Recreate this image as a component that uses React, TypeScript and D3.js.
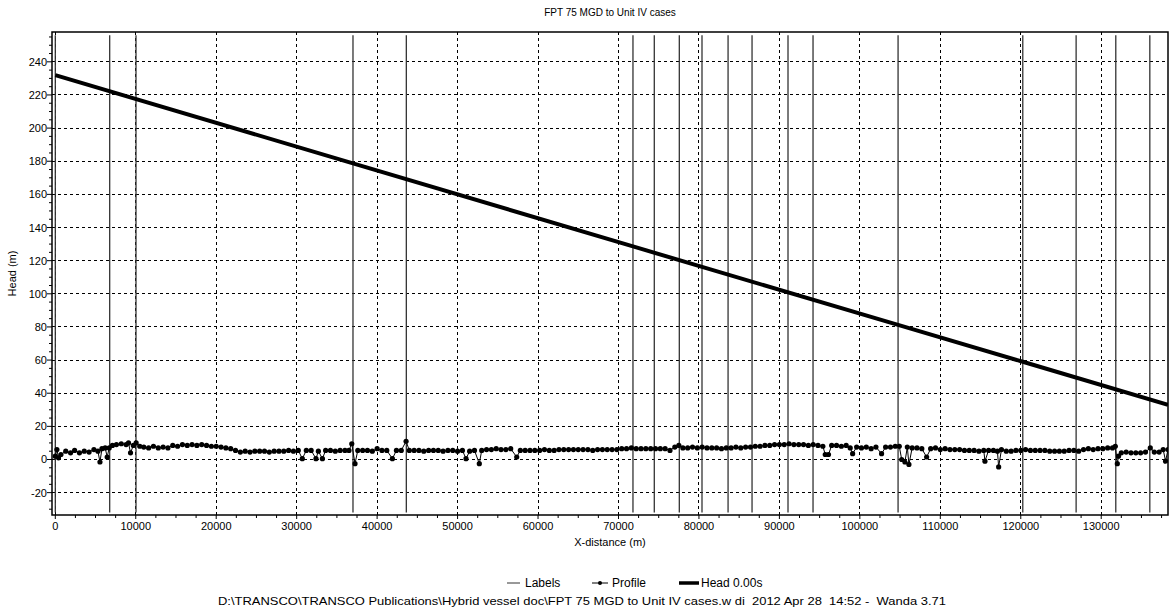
import React from "react";
import * as d3 from "d3";

const title = "FPT 75 MGD to Unit IV cases";
const xAxisTitle = "X-distance (m)";
const yAxisTitle = "Head (m)";
const footer = "D:\\TRANSCO\\TRANSCO Publications\\Hybrid vessel doc\\FPT 75 MGD to Unit IV cases.w di  2012 Apr 28  14:52 -  Wanda 3.71";
const legendNames = ["Labels", "Profile", "Head 0.00s"];

const xTicks = [0, 10000, 20000, 30000, 40000, 50000, 60000, 70000, 80000, 90000, 100000, 110000, 120000, 130000];
const yTicks = [-20, 0, 20, 40, 60, 80, 100, 120, 140, 160, 180, 200, 220, 240];

// vertical "Labels" markers (x-distance, m)
const labelX = [0, 6760, 10030, 37000, 43630, 71800, 74450, 77560, 80380, 83620, 86600, 91070, 94180, 104750, 120250, 126880, 131810, 136040];
const labelRange = [-32, 256];

// Head 0.00s
const headX = [0, 37000, 71800, 104750, 120250, 138300];
const headH = [232, 178.7, 128.6, 81.2, 59.0, 33];

// Profile (x-distance, elevation)
const profileX = [
  0, 200, 400, 700, 1300, 1900, 2400, 3000, 3600, 4200, 4800, 5300, 5550, 5800, 6200, 6450, 6700, 7100, 7600, 8200,
  8800, 9100, 9350, 9700, 10050, 10500, 11000, 11600, 12200, 12800, 13400, 14000, 14600, 15200, 15800, 16400, 17000, 17600, 18200, 18800,
  19400, 20000, 20600, 21200, 21800, 22400, 23000, 23600, 24200, 24800, 25400, 26000, 26600, 27200, 27800, 28400, 29000, 29600, 30200, 30700,
  31200, 31800, 32400, 32700, 33200, 33600, 34200, 34800, 35400, 36000, 36500, 36850, 37250, 37600, 38200, 38800, 39400, 40000, 40600, 41200,
  41900, 42400, 43000, 43600, 44000, 44600, 45200, 45800, 46400, 47000, 47600, 48200, 48800, 49400, 50000, 50600, 51050, 51500, 52100, 52700,
  53000, 53600, 54200, 54800, 55400, 56000, 56600, 57350, 57800, 58400, 59000, 59600, 60200, 60800, 61400, 62000, 62600, 63200, 63800, 64400,
  65000, 65600, 66200, 66800, 67400, 68000, 68600, 69200, 69800, 70400, 71000, 71600, 72200, 72800, 73400, 74000, 74600, 75200, 75800, 76400,
  77000, 77500, 78000, 78600, 79200, 79800, 80400, 81000, 81600, 82200, 82800, 83400, 84000, 84600, 85200, 85800, 86400, 87000, 87600, 88200,
  88800, 89400, 90000, 90600, 91200, 91800, 92400, 93000, 93600, 94200, 94800, 95400, 95700, 96100, 96500, 97100, 97700, 98300, 98800, 99100,
  99600, 100200, 100800, 101400, 102000, 102700, 103200, 103800, 104400, 104900, 105200, 105600, 105900, 106100, 106500, 107100, 107700, 108300, 108800, 109400,
  110000, 110600, 111200, 111800, 112400, 113000, 113600, 114200, 114800, 115400, 115550, 116000, 116600, 117100, 117250, 117600, 118200, 118800, 119400, 120000,
  120600, 121200, 121800, 122400, 123000, 123600, 124200, 124800, 125400, 126000, 126600, 127200, 127800, 128400, 129000, 129600, 130200, 130800, 131400, 131750,
  132000, 132150, 132500, 133100, 133700, 134300, 134900, 135500, 136100, 136600, 137200, 137700, 138000, 138300,
];
const profileZ = [
  2, 6, 1, 3, 5, 4, 5.5, 4, 5, 4.5, 6, 5, -1.5, 6.5, 7, 1.5, 7, 8.5, 9, 9.5,
  9, 10, 4, 8.5, 10, 8, 7.5, 7, 8, 7, 7.5, 7, 8.5, 8, 9, 8.5, 9, 8.5, 9, 8.5,
  8, 8, 7.5, 7, 6.5, 5.5, 4.5, 5, 4.5, 5, 5, 5, 4.5, 5, 5, 5, 5.5, 5, 5.5, 0.5,
  5.5, 5.5, 0.5, 5, 0.5, 5.5, 5.5, 5, 5.5, 5.5, 5.5, 9.5, -2.5, 5.5, 5.5, 5.5, 5, 6.5, 5.5, 5.5,
  0.5, 5.5, 5.5, 11, 5.5, 5.5, 5.5, 5, 5.5, 5.5, 5.5, 5, 5.5, 5.5, 5, 5.5, 0.5, 5, 5.5, -2.5,
  5.5, 6, 6, 6.5, 6, 6, 6.5, 1.5, 5.5, 5.5, 5.5, 5.5, 5.5, 6, 5.5, 5.5, 6, 6, 6, 6,
  6, 6, 6, 5.5, 6, 6, 6, 6, 6, 6.5, 6.5, 7, 6.5, 6.5, 6.5, 6.5, 6.5, 6.5, 6.5, 5.5,
  7.5, 8.5, 7, 7, 7.5, 7, 7.5, 7, 7, 7, 6.5, 7, 7, 7.5, 7, 7.5, 7.5, 8, 8, 8.5,
  8.5, 9, 9, 9, 9.5, 9, 9, 9, 8.5, 9, 8.5, 8, 3, 3, 8.5, 8.5, 8, 8.5, 7, 3.5,
  7.5, 7, 7.5, 6.5, 7.5, 3.5, 7.5, 7.5, 8, 8, 0, -1.5, 7.5, -3, 7, 7, 6.5, 1.5, 6.5, 7,
  6, 6.5, 6, 6, 6, 5.5, 5.5, 5.5, 5, 5.5, -1, 5.5, 5.5, 5, -4.5, 6, 5, 5, 5.5, 5.5,
  6, 5.5, 5.5, 5.5, 5.5, 5, 5, 5, 5, 5.5, 5.5, 5, 6, 6.5, 6, 6.5, 6.5, 7, 7, 8,
  -2.5, 2, 4, 4.5, 4, 4, 4, 4.5, 7, 4.5, 4.5, 6, -1, 6,
];

const W = 1169;
const H = 614;
const L = 52, R = 1168, T = 32, B = 515;
const FONT = "'Liberation Sans', Arial, sans-serif";

export default function App() {
  const x = d3.scaleLinear().domain([-410, 138300]).range([L, R]);
  const y = d3.scaleLinear().domain([-33.5, 258]).range([B, T]);

  const xMinor = d3.range(0, 138300, 2500).filter((v) => v % 10000 !== 0);
  const yMinor = d3.range(-30, 258, 5).filter((v) => v % 20 !== 0);

  const profilePts: [number, number][] = profileX.map((v, i) => [v, profileZ[i]]);
  const headPts: [number, number][] = headX.map((v, i) => [v, headH[i]]);
  const line = d3.line<[number, number]>().x((d) => x(d[0])).y((d) => y(d[1]));

  const legY = 583;

  return (
    <svg width={W} height={H} style={{ position: "absolute", left: 0, top: 0, background: "#fff" }} fontFamily={FONT}>
      <rect x={0} y={0} width={W} height={H} fill="#fff" />
      <text x={(L + R) / 2} y={16} fontSize={10} textAnchor="middle" fill="#000">{title}</text>

      <defs>
        <clipPath id="plot">
          <rect x={L} y={T} width={R - L} height={B - T} />
        </clipPath>
      </defs>

      {/* grid */}
      <g stroke="#000" strokeWidth={1} strokeDasharray="3,3" shapeRendering="crispEdges">
        {xTicks.map((t) => (
          <line key={"gx" + t} x1={x(t)} x2={x(t)} y1={T} y2={B} />
        ))}
        {yTicks.map((t) => (
          <line key={"gy" + t} x1={L} x2={R} y1={y(t)} y2={y(t)} />
        ))}
      </g>

      <g clipPath="url(#plot)">
        {/* label lines */}
        <g stroke="#333" strokeWidth={1.3}>
          {labelX.map((v) => (
            <line key={"l" + v} x1={x(v)} x2={x(v)} y1={y(labelRange[0])} y2={y(labelRange[1])} />
          ))}
        </g>
        {/* profile */}
        <path d={line(profilePts) || ""} fill="none" stroke="#000" strokeWidth={1} />
        {profilePts.map((p, i) => (
          <circle key={"p" + i} cx={x(p[0])} cy={y(p[1])} r={2.6} fill="#000" />
        ))}
        {/* head */}
        <path d={line(headPts) || ""} fill="none" stroke="#000" strokeWidth={4} />
      </g>

      {/* frame */}
      <rect x={L} y={T} width={R - L} height={B - T} fill="none" stroke="#000" strokeWidth={1.5} />

      {/* ticks */}
      <g stroke="#000" strokeWidth={1}>
        {xTicks.map((t) => (
          <line key={"xt" + t} x1={x(t)} x2={x(t)} y1={B} y2={B + 4} />
        ))}
        {xMinor.map((t) => (
          <line key={"xm" + t} x1={x(t)} x2={x(t)} y1={B} y2={B + 3} />
        ))}
        {yTicks.map((t) => (
          <line key={"yt" + t} x1={L - 5} x2={L} y1={y(t)} y2={y(t)} />
        ))}
        {yMinor.map((t) => (
          <line key={"ym" + t} x1={L - 3} x2={L} y1={y(t)} y2={y(t)} />
        ))}
      </g>
      <g fontSize={11} fill="#000">
        {xTicks.map((t) => (
          <text key={"xl" + t} x={x(t)} y={B + 15} textAnchor="middle">{String(t)}</text>
        ))}
        {yTicks.map((t) => (
          <text key={"yl" + t} x={L - 5} y={y(t) + 4} textAnchor="end">{String(t)}</text>
        ))}
      </g>
      <text x={(L + R) / 2} y={546} fontSize={11} textAnchor="middle" fill="#000">{xAxisTitle}</text>
      <text transform={`translate(16,${(T + B) / 2}) rotate(-90)`} fontSize={11} textAnchor="middle" fill="#000">{yAxisTitle}</text>

      {/* legend */}
      <g fontSize={12} fill="#000">
        <line x1={507} x2={520} y1={legY} y2={legY} stroke="#333" strokeWidth={1} />
        <text x={525} y={legY + 4}>{legendNames[0]}</text>
        <line x1={592} x2={608} y1={legY} y2={legY} stroke="#000" strokeWidth={1} />
        <circle cx={600} cy={legY} r={2} fill="#000" />
        <text x={612} y={legY + 4}>{legendNames[1]}</text>
        <line x1={679} x2={699} y1={legY} y2={legY} stroke="#000" strokeWidth={3.5} />
        <text x={701} y={legY + 4}>{legendNames[2]}</text>
      </g>
      <text x={218} y={605} fontSize={11} textLength={728} lengthAdjust="spacingAndGlyphs" fill="#000" style={{ whiteSpace: "pre" }}>{footer}</text>
    </svg>
  );
}
